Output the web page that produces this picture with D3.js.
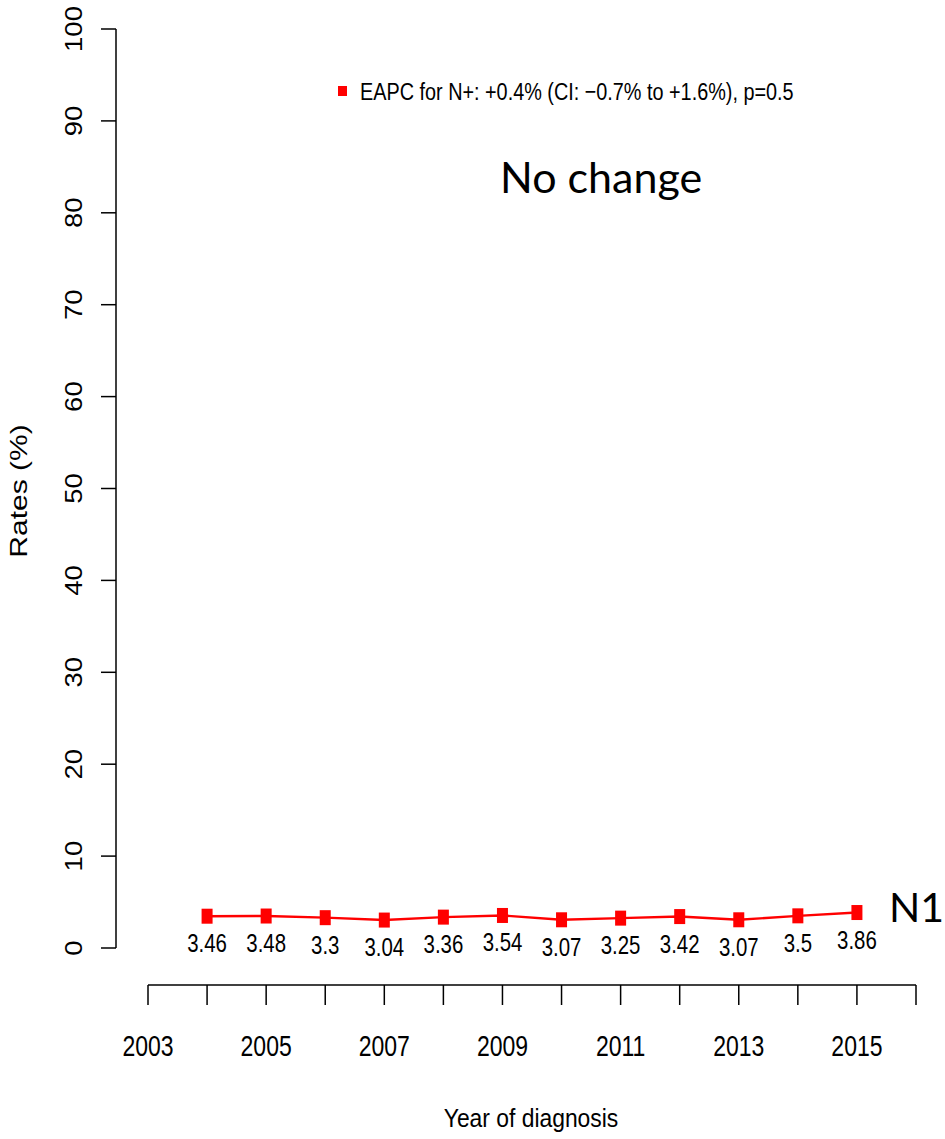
<!DOCTYPE html>
<html>
<head>
<meta charset="utf-8">
<script src="https://cdn.jsdelivr.net/npm/d3@7/dist/d3.min.js"></script>
<style>
	body { margin: 0; background: #fff; }
	svg { display: block; }
	text { font-family: "Liberation Sans", Arial, sans-serif; fill: #000; }
	.note { font-family: Lato, "Open Sans", sans-serif; }
</style>
</head>
<body>
<div id="chart"></div>
<script>
// data
const years = [2004, 2005, 2006, 2007, 2008, 2009, 2010, 2011, 2012, 2013, 2014, 2015];
const rates = [3.46, 3.48, 3.3, 3.04, 3.36, 3.54, 3.07, 3.25, 3.42, 3.07, 3.5, 3.86];
const yTicks = [0, 10, 20, 30, 40, 50, 60, 70, 80, 90, 100];
const xTicks = [2003, 2004, 2005, 2006, 2007, 2008, 2009, 2010, 2011, 2012, 2013, 2014, 2015, 2016];
const xTickLabels = [2003, 2005, 2007, 2009, 2011, 2013, 2015];
const legendText = 'EAPC for N+: +0.4% (CI: \u22120.7% to +1.6%), p=0.5';

const width = 945;
const height = 1139;
const squeeze = 0.8; // the original picture is narrowed sideways

const svg = d3.select('#chart').append('svg')
	.attr('width', width)
	.attr('height', height);

const x = d3.scaleLinear()
	.domain([2003, 2016])
	.range([148, 916]);
const y = d3.scaleLinear()
	.domain([0, 100])
	.range([948, 29]);

// y axis
const yAxis = svg.append('g')
	.attr('transform', 'translate(116, 0)');
yAxis.append('line')
	.attr('y1', y(0))
	.attr('y2', y(100))
	.attr('stroke', '#000')
	.attr('stroke-width', 1.5);
yAxis.selectAll('.tick')
	.data(yTicks)
	.enter().append('line')
		.attr('x1', -15)
		.attr('x2', 0)
		.attr('y1', d => y(d))
		.attr('y2', d => y(d))
		.attr('stroke', '#000')
		.attr('stroke-width', 1.5);
svg.selectAll('.y-label')
	.data(yTicks)
	.enter().append('text')
		.attr('class', 'y-label')
		.attr('transform', d => `translate(82, ${y(d)}) scale(0.86, 1) rotate(-90)`)
		.attr('text-anchor', 'middle')
		.style('font-size', '27.5px')
		.text(d => d);

// x axis
const xAxis = svg.append('g')
	.attr('transform', 'translate(0, 985)');
xAxis.append('line')
	.attr('x1', x(2003))
	.attr('x2', x(2016))
	.attr('stroke', '#000')
	.attr('stroke-width', 1.5);
xAxis.selectAll('.tick')
	.data(xTicks)
	.enter().append('line')
		.attr('x1', d => x(d))
		.attr('x2', d => x(d))
		.attr('y1', 0)
		.attr('y2', 20)
		.attr('stroke', '#000')
		.attr('stroke-width', 1.5);
svg.selectAll('.x-label')
	.data(xTickLabels)
	.enter().append('text')
		.attr('class', 'x-label')
		.attr('transform', d => `translate(${x(d)}, 1056) scale(0.78, 1)`)
		.attr('text-anchor', 'middle')
		.style('font-size', '29.5px')
		.text(d => d);

// axis titles
svg.append('text')
	.attr('transform', 'translate(531, 1127) scale(0.88, 1)')
	.attr('text-anchor', 'middle')
	.style('font-size', '26px')
	.text('Year of diagnosis');
svg.append('text')
	.attr('transform', `translate(27, 491) scale(${squeeze}, 1) rotate(-90)`)
	.attr('text-anchor', 'middle')
	.style('font-size', '30px')
	.text('Rates (%)');

// series line and markers
const points = years.map((yr, i) => ({ year: yr, rate: rates[i] }));
const line = d3.line()
	.x(d => x(d.year))
	.y(d => y(d.rate));
svg.append('path')
	.datum(points)
	.attr('d', line)
	.attr('fill', 'none')
	.attr('stroke', '#ff0000')
	.attr('stroke-width', 2.4);
svg.selectAll('.marker')
	.data(points)
	.enter().append('rect')
		.attr('class', 'marker')
		.attr('x', d => x(d.year) - 5.5)
		.attr('y', d => y(d.rate) - 7.5)
		.attr('width', 11)
		.attr('height', 15)
		.attr('fill', '#ff0000');
svg.selectAll('.value-label')
	.data(points)
	.enter().append('text')
		.attr('class', 'value-label')
		.attr('transform', d => `translate(${x(d.year)}, ${y(d.rate) + 36}) scale(${squeeze}, 1)`)
		.attr('text-anchor', 'middle')
		.style('font-size', '25.5px')
		.text(d => d.rate);

// legend
svg.append('rect')
	.attr('x', 338)
	.attr('y', 86)
	.attr('width', 9)
	.attr('height', 10)
	.attr('fill', '#ff0000');
svg.append('text')
	.attr('transform', `translate(360, 100) scale(${squeeze}, 1)`)
	.style('font-size', '24.8px')
	.text(legendText);

// annotations
svg.append('text')
	.attr('class', 'note')
	.attr('x', 500)
	.attr('y', 193)
	.style('font-size', '43px')
	.text('No change');
svg.append('text')
	.attr('class', 'note')
	.attr('x', 889)
	.attr('y', 922)
	.style('font-size', '41px')
	.text('N1');
</script>
</body>
</html>
